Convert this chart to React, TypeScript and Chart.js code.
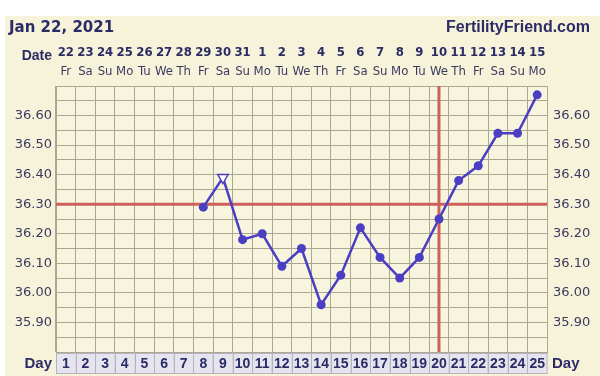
import React, { useEffect, useRef } from "react";
import { Chart, registerables } from "chart.js";

Chart.register(...registerables);

const chartTitle = "Jan 22, 2021";
const siteName = "FertilityFriend.com";
const dayNumbers = ["1","2","3","4","5","6","7","8","9","10","11","12","13","14","15","16","17","18","19","20","21","22","23","24","25"];
const dateNumbers = ["22","23","24","25","26","27","28","29","30","31","1","2","3","4","5","6","7","8","9","10","11","12","13","14","15"];
const weekdays = ["Fr","Sa","Su","Mo","Tu","We","Th","Fr","Sa","Su","Mo","Tu","We","Th","Fr","Sa","Su","Mo","Tu","We","Th","Fr","Sa","Su","Mo"];
const temperatures = [null, null, null, null, null, null, null, 36.29, 36.39, 36.18, 36.20, 36.09, 36.15, 35.96, 36.06, 36.22, 36.12, 36.05, 36.12, 36.25, 36.38, 36.43, 36.54, 36.54, 36.67];
const openMarkerDays = ["9"];
const coverline = 36.30;
const ovulationDay = "20";
const yGridValues = [35.8, 35.85, 35.9, 35.95, 36.0, 36.05, 36.1, 36.15, 36.2, 36.25, 36.3, 36.35, 36.4, 36.45, 36.5, 36.55, 36.6, 36.65, 36.7];
const yLabelValues = [35.9, 36.0, 36.1, 36.2, 36.3, 36.4, 36.5, 36.6];

const NAVY = "#2b2b66";
const LABEL = "#3b3b5e";
const GRID = "#aca693";
const CREAM = "#f6f3da";
const PLOT_BG = "#f8f5de";
const LINE = "#4a3fc2";
const RED = "#cf5f5a";
const NARROW = '"Liberation Sans Narrow", "DejaVu Sans Condensed", "Liberation Sans", sans-serif';

const isLabel = (v: number) => yLabelValues.some((l) => Math.abs(l - v) < 1e-6);

export default function App() {
  const ref = useRef<HTMLCanvasElement | null>(null);

  useEffect(() => {
    const canvas = ref.current;
    if (!canvas) return;

    const bgPlugin = {
      id: "bg",
      beforeDraw(chart: any) {
        const { ctx, chartArea } = chart;
        ctx.save();
        ctx.fillStyle = "#ffffff";
        ctx.fillRect(0, 0, chart.width, chart.height);
        ctx.fillStyle = CREAM;
        ctx.fillRect(5, 16, chart.width - 5, chart.height - 16);
        ctx.fillStyle = PLOT_BG;
        ctx.fillRect(chartArea.left, chartArea.top, chartArea.right - chartArea.left, chartArea.bottom - chartArea.top);
        ctx.restore();
      },
    };

    const markerPlugin = {
      id: "markers",
      beforeDatasetsDraw(chart: any) {
        const { ctx, chartArea, scales } = chart;
        const yPix = scales.y.getPixelForValue(coverline);
        const xPix = scales.x.getPixelForValue(dayNumbers.indexOf(ovulationDay));
        ctx.save();
        ctx.strokeStyle = RED;
        ctx.lineWidth = 3;
        ctx.beginPath();
        ctx.moveTo(chartArea.left, yPix);
        ctx.lineTo(chartArea.right, yPix);
        ctx.moveTo(xPix, chartArea.top);
        ctx.lineTo(xPix, chartArea.bottom);
        ctx.stroke();
        ctx.restore();
      },
      afterDraw(chart: any) {
        const { ctx, chartArea, scales } = chart;
        const xs = scales.x;
        const col = (chartArea.right - chartArea.left) / dayNumbers.length;
        ctx.save();
        // header
        ctx.fillStyle = NAVY;
        ctx.textBaseline = "alphabetic";
        ctx.font = 'bold 15px "DejaVu Sans", sans-serif';
        ctx.textAlign = "left";
        ctx.fillText(chartTitle, 9, 32);
        ctx.font = 'bold 16px "Liberation Sans", sans-serif';
        ctx.textAlign = "right";
        ctx.fillText(siteName, 590, 32);
        // Date label
        ctx.font = 'bold 14px "Liberation Sans", sans-serif';
        ctx.textAlign = "right";
        ctx.fillText("Date", 52, 60);
        // dates and weekdays
        ctx.textAlign = "center";
        dateNumbers.forEach((d, i) => {
          const x = xs.getPixelForValue(i);
          ctx.font = "bold 13px " + NARROW;
          ctx.fillStyle = NAVY;
          ctx.fillText(d, x, 56);
          ctx.font = "13px " + NARROW;
          ctx.fillStyle = LABEL;
          ctx.fillText(weekdays[i], x, 75);
        });
        // day row
        const top = chartArea.bottom + 1;
        const h = 20;
        dayNumbers.forEach((d, i) => {
          const x = xs.getPixelForValue(i);
          ctx.fillStyle = "#e6e4ee";
          ctx.fillRect(x - col / 2, top, col, h);
          ctx.strokeStyle = "#b7b2bf";
          ctx.lineWidth = 1;
          ctx.strokeRect(Math.round(x - col / 2) + 0.5, top + 0.5, col, h);
        });
        ctx.fillStyle = NAVY;
        ctx.font = 'bold 14px "Liberation Sans", sans-serif';
        ctx.textAlign = "center";
        ctx.textBaseline = "middle";
        dayNumbers.forEach((d, i) => {
          ctx.fillText(d, xs.getPixelForValue(i), top + h / 2 + 1);
        });
        ctx.font = 'bold 15px "Liberation Sans", sans-serif';
        ctx.textAlign = "right";
        ctx.fillText("Day", 52, top + h / 2 + 1);
        ctx.textAlign = "left";
        ctx.fillText("Day", 552, top + h / 2 + 1);
        ctx.restore();
      },
    };

    const yAxisBase = {
      min: 35.8,
      max: 36.7,
      afterBuildTicks: (scale: any) => {
        scale.ticks = yGridValues.map((v) => ({ value: v }));
      },
      ticks: {
        autoSkip: false,
        color: LABEL,
        font: { family: '"DejaVu Sans", sans-serif', size: 13 },
        callback: (v: any) => (isLabel(Number(v)) ? Number(v).toFixed(2) : ""),
      },
      border: { color: GRID, width: 1 },
    };

    const chart = new Chart(canvas, {
      type: "line",
      data: {
        labels: dayNumbers,
        datasets: [
          {
            data: temperatures,
            borderColor: LINE,
            borderWidth: 2.5,
            pointRadius: dayNumbers.map((d) => (openMarkerDays.includes(d) ? 6 : 4.5)),
            pointStyle: dayNumbers.map((d) => (openMarkerDays.includes(d) ? "triangle" : "circle")) as any,
            pointRotation: dayNumbers.map((d) => (openMarkerDays.includes(d) ? 180 : 0)),
            pointBackgroundColor: dayNumbers.map((d) => (openMarkerDays.includes(d) ? "#ffffff" : LINE)),
            pointBorderColor: LINE,
            pointBorderWidth: dayNumbers.map((d) => (openMarkerDays.includes(d) ? 1.5 : 0)),
            spanGaps: false,
            tension: 0,
          } as any,
        ],
      },
      options: {
        animation: false,
        responsive: false,
        maintainAspectRatio: false,
        layout: { padding: { top: 86, left: 0, right: 0, bottom: 0 } },
        plugins: { legend: { display: false }, tooltip: { enabled: false } },
        scales: {
          x: {
            type: "category",
            offset: true,
            grid: { offset: true, color: GRID, drawTicks: false },
            border: { color: GRID },
            ticks: { display: false },
            afterFit: (s: any) => {
              s.height = 24;
            },
          },
          y: {
            ...yAxisBase,
            position: "left",
            grid: { color: GRID, drawTicks: false },
            ticks: { ...yAxisBase.ticks, padding: 4 },
            afterFit: (s: any) => {
              s.width = 56;
            },
          },
          y2: {
            ...yAxisBase,
            position: "right",
            grid: { display: false, drawTicks: false },
            ticks: { ...yAxisBase.ticks, padding: 6 },
            afterFit: (s: any) => {
              s.width = 53;
            },
          },
        },
      } as any,
      plugins: [bgPlugin, markerPlugin],
    });

    return () => chart.destroy();
  }, []);

  return (
    <div style={{ position: "fixed", left: 0, top: 0, width: 600, height: 376 }}>
      <canvas ref={ref} width={600} height={376} style={{ display: "block", width: 600, height: 376 }} />
    </div>
  );
}
